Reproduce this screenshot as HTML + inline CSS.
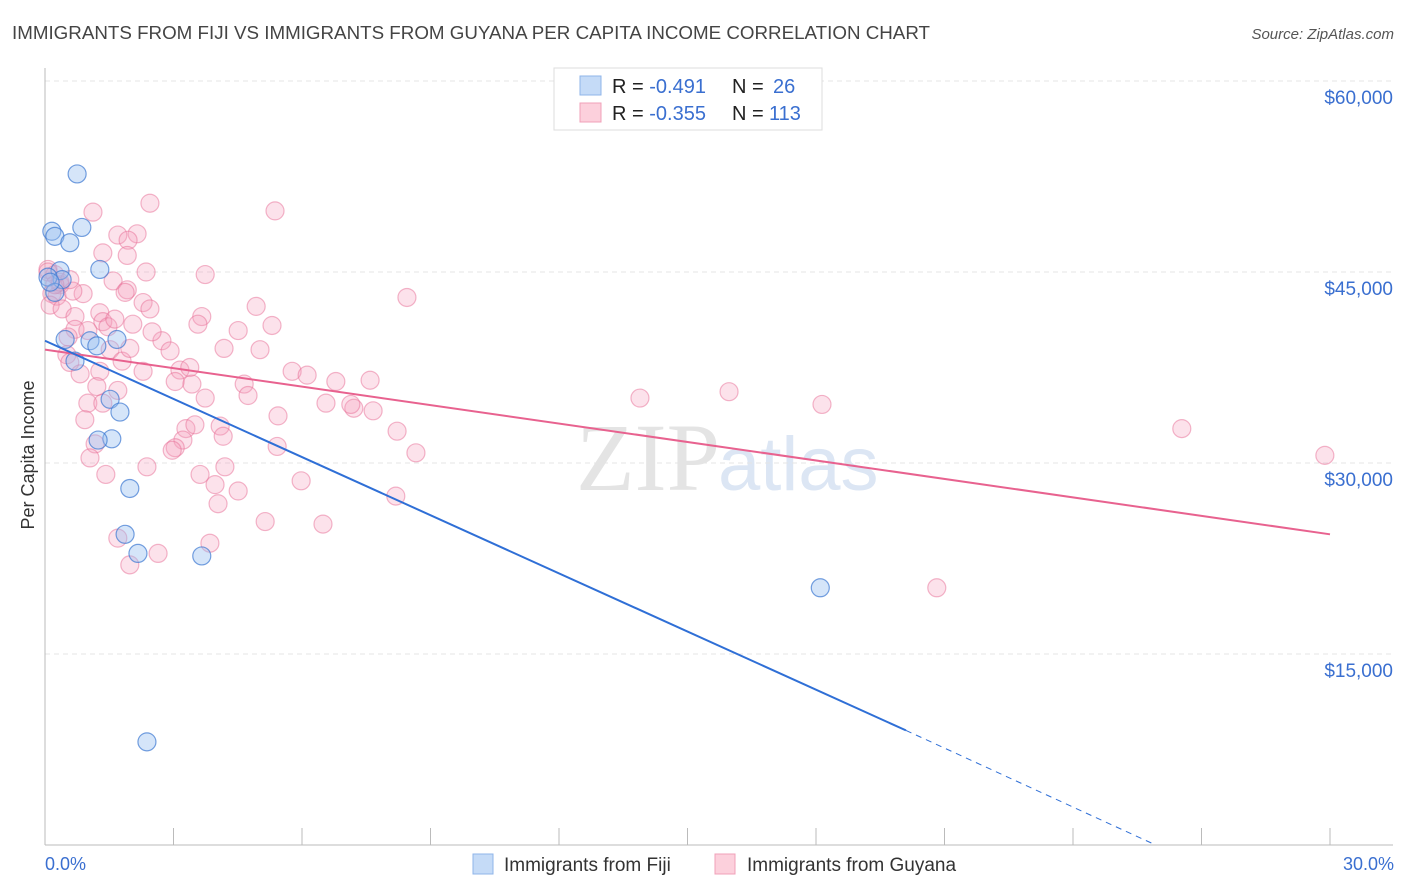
<!DOCTYPE html>
<html><head><meta charset="utf-8"><style>
body{margin:0;background:#fff;font-family:"Liberation Sans",sans-serif;}
svg{display:block}
</style></head><body>
<svg id="c" width="1406" height="892" xmlns="http://www.w3.org/2000/svg">
<text x="12" y="39" font-size="18" fill="#444" textLength="918" lengthAdjust="spacingAndGlyphs">IMMIGRANTS FROM FIJI VS IMMIGRANTS FROM GUYANA PER CAPITA INCOME CORRELATION CHART</text>
<text x="1394" y="39" font-size="15" fill="#555" text-anchor="end" font-style="italic">Source: ZipAtlas.com</text>
<text x="720" y="490" font-size="96" fill="#e4e4e4" text-anchor="end" font-family="Liberation Serif">ZIP</text>
<text x="718" y="490" font-size="76" fill="#dce6f4">atlas</text>
<g id="grid"></g><g id="axes"></g><g id="pts"></g><g id="lines"></g>
<text transform="translate(34,455) rotate(-90)" font-size="18" fill="#333" text-anchor="middle">Per Capita Income</text>
<text x="45" y="870" font-size="18" fill="#3a6fd0">0.0%</text>
<text x="1394" y="870" font-size="18" fill="#3a6fd0" text-anchor="end">30.0%</text>
<g>
<rect x="554" y="68" width="268" height="62" fill="#fff" stroke="#ddd"/>
<rect x="580" y="76" width="21" height="19" fill="#c5dbf7" stroke="#8fb4ea"/>
<rect x="580" y="103" width="21" height="19" fill="#fcd0dc" stroke="#f0a0b8"/>
<text x="612" y="93" font-size="20" fill="#222">R = <tspan fill="#3a6fd0">-0.491</tspan><tspan x="732">N = </tspan><tspan x="773" fill="#3a6fd0">26</tspan></text>
<text x="612" y="120" font-size="20" fill="#222">R = <tspan fill="#3a6fd0">-0.355</tspan><tspan x="732">N = </tspan><tspan x="769" fill="#3a6fd0">113</tspan></text>
</g>
<g>
<rect x="473" y="854" width="20" height="20" fill="#c5dbf7" stroke="#8fb4ea"/>
<text x="504" y="871" font-size="19" fill="#333">Immigrants from Fiji</text>
<rect x="715" y="854" width="20" height="20" fill="#fcd0dc" stroke="#f0a0b8"/>
<text x="747" y="871" font-size="19" fill="#333">Immigrants from Guyana</text>
</g>
</svg>
<script>
const yTicks=[15000,30000,45000,60000];
const yTickLabels=["$15,000","$30,000","$45,000","$60,000"];
const fijiX=[0.75,0.16,0.23,0.86,0.58,0.35,1.28,0.40,0.07,0.47,1.05,1.21,1.68,0.70,1.52,1.75,1.56,1.24,1.98,1.87,2.17,3.66,2.38,18.1,0.23,0.12];
const fijiY=[52700,48200,47800,48500,47300,45100,45200,44400,44600,39700,39600,39200,39700,38000,35000,34000,31900,31800,28000,24400,22900,22700,8100,20200,43400,44200];
const guyX=[1.12,2.45,5.37,1.70,2.15,1.94,1.35,1.92,2.36,3.74,0.07,0.23,0.35,0.16,0.28,0.12,0.89,1.59,1.92,1.87,2.29,2.45,0.40,0.70,1.28,1.35,2.05,1.47,4.93,3.66,8.45,3.57,4.51,5.30,2.73,2.50,0.70,0.54,1.00,1.52,1.80,2.92,4.18,5.02,0.51,0.58,0.82,1.28,2.29,3.15,3.38,3.04,3.43,4.65,5.77,6.12,6.79,7.59,1.70,1.21,3.74,4.74,6.56,7.21,7.14,7.66,1.00,1.35,0.93,5.44,3.29,3.50,4.09,3.22,3.04,4.16,8.22,1.17,2.97,5.42,8.66,1.05,2.38,4.20,1.42,3.62,5.98,3.97,4.51,4.04,8.19,5.14,6.49,1.70,3.85,2.64,1.98,13.89,15.97,18.14,26.54,29.88,20.82,0.07,0.65,0.35,0.58,0.23,1.98,1.63];
const guyY=[49700,50400,49800,47900,48000,47500,46500,46300,45000,44800,45200,44800,44000,43300,43100,42400,43300,44300,43600,43400,42600,42100,42100,41500,41800,41100,40900,40700,42300,41500,43000,40900,40400,40800,39600,40300,40500,39900,40400,38900,38000,38800,39000,38900,38500,37900,37000,37200,37200,37300,37500,36400,36200,36200,37200,36900,36400,36500,35700,36000,35100,35300,34700,34300,34600,34100,34700,34700,33400,33700,32700,33000,32900,31800,31200,32100,32500,31500,31000,31300,30800,30400,29700,29700,29100,29100,28600,28300,27800,26800,27400,25400,25200,24100,23700,22900,22000,35100,35600,34600,32700,30600,20200,45000,43500,44200,44400,44000,39000,41300];
const fijiLine=[[0,39600],[20.1,9000]];
const fijiDash=[[20.1,9000],[25.93,0]];
const guyLine=[[0,38900],[30,24400]];
const NS="http://www.w3.org/2000/svg";
const X=v=>45+v/30*1285, Y=v=>845-v/15000*191;
function mk(t,a,p){const e=document.createElementNS(NS,t);for(const k in a)e.setAttribute(k,a[k]);document.getElementById(p).appendChild(e);return e;}
yTicks.forEach((t,i)=>{
 const l=mk('line',{x1:45,x2:1393,y1:Y(t),y2:Y(t),stroke:'#e4e4e4','stroke-width':1,'stroke-dasharray':'5,4'},'grid');
 
 
 const tx=mk('text',{x:1393,y:Y(t)+23,'font-size':19,fill:'#3a6fd0','text-anchor':'end'},'grid');
 tx.textContent=yTickLabels[i];
 
 
});
const ax=mk('line',{x1:45,x2:45,y1:68,y2:845,stroke:'#bbb'},'axes');


const bx=mk('line',{x1:45,x2:1393,y1:845,y2:845,stroke:'#bbb'},'axes');


for(let i=1;i<=10;i++){
 const t=mk('line',{x1:X(i*3),x2:X(i*3),y1:828,y2:845,stroke:'#bbb'},'axes');
 
 
}
guyX.forEach((v,i)=>{
 const c=mk('circle',{cx:X(v),cy:Y(guyY[i]),r:9,fill:'rgba(246,160,188,0.3)',stroke:'rgba(232,110,150,0.5)','stroke-width':1.2},'pts');
 
 
});
fijiX.forEach((v,i)=>{
 const c=mk('circle',{cx:X(v),cy:Y(fijiY[i]),r:9,fill:'rgba(150,190,240,0.4)',stroke:'rgba(60,120,210,0.7)','stroke-width':1.2},'pts');
 
 
});
function ln(d,col,w,dash,name){
 const a={x1:X(d[0][0]),y1:Y(d[0][1]),x2:X(d[1][0]),y2:Y(d[1][1]),stroke:col,'stroke-width':w};
 if(dash)a['stroke-dasharray']=dash;
 const l=mk('line',a,'lines');
 
 
}
ln(guyLine,'#e8628f',2,null,'guyana-trend-line');
ln(fijiLine,'#2f6fd6',2,null,'fiji-trend-line');
ln(fijiDash,'#2f6fd6',1,'6,5','fiji-trend-extension');
</script>
</body></html>
